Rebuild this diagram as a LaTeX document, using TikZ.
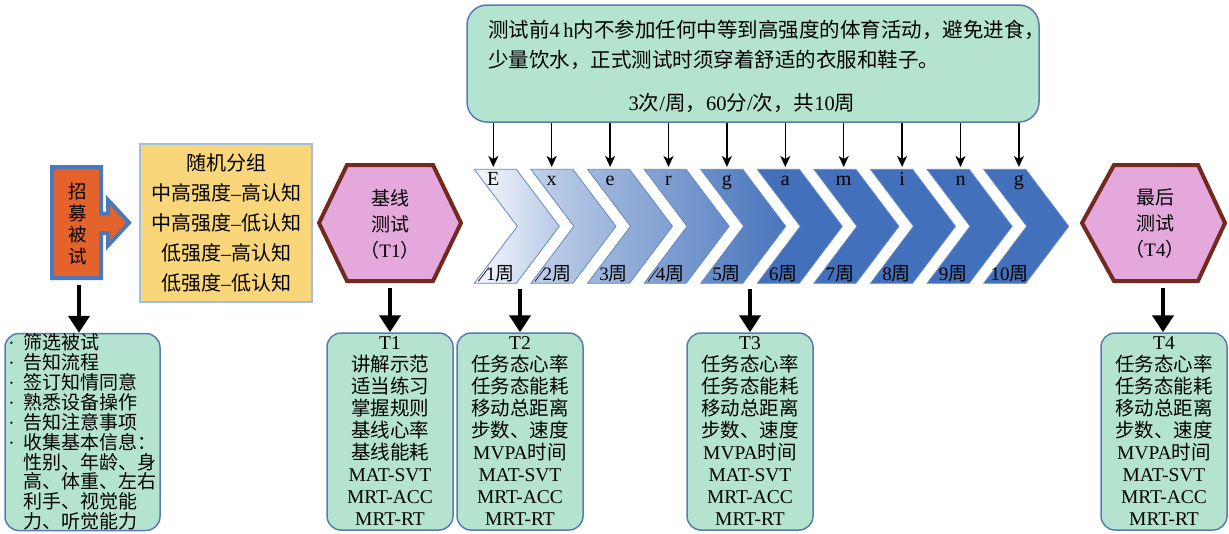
\documentclass[tikz,border=0pt]{standalone}
\usepackage{fontspec}
\setmainfont{Noto Sans CJK SC}
\newfontfamily\lat{Liberation Serif}
\usetikzlibrary{arrows.meta}
\definecolor{boxgreen}{RGB}{180,228,207}
\definecolor{boxblue}{RGB}{88,124,178}
\definecolor{hexpink}{RGB}{228,168,220}
\definecolor{hexbrown}{RGB}{114,41,31}
\definecolor{yel}{RGB}{250,214,122}
\definecolor{yelborder}{RGB}{160,190,228}
\definecolor{orng}{RGB}{228,98,44}
\definecolor{orngborder}{RGB}{74,120,184}
\definecolor{chevdark}{RGB}{66,112,186}
\definecolor{chevlight}{RGB}{246,249,253}
\definecolor{chevline}{RGB}{100,136,196}
\newcommand\itemdot{\makebox[15pt][l]{\lat ·}}
\begin{document}
\begin{tikzpicture}[x=1pt,y=-1pt,
  greenbox/.style={draw=boxblue,line width=1.5pt,fill=boxgreen,rounded corners=14pt},
  tbox/.style={greenbox,minimum width=126pt,minimum height=197pt,inner sep=0pt,align=center,font=\fontsize{19.5}{22}\selectfont},
  hexline/.style={draw=hexbrown,line width=4pt,fill=hexpink,line join=miter},
  hextext/.style={align=center,inner sep=0pt,font=\fontsize{19}{26}\selectfont},
  thinarrow/.style={line width=1.5pt,-{Stealth[length=11pt,width=10pt,inset=3pt]}},
  thickarrow/.style={line width=4.5pt,-{Triangle[length=17pt,width=21pt]}},
  chevlab/.style={font=\lat\fontsize{20}{20}\selectfont,inner sep=0pt,anchor=base},
  wklab/.style={font=\fontsize{19}{19}\selectfont,inner sep=0pt},
]
\fill[white] (0,0) rectangle (1229,533);
\useasboundingbox (0,0) rectangle (1229,533);

% top note box
\node[greenbox,rounded corners=20pt,minimum width=572pt,minimum height=117pt] (topbox) at (753,63.5) {};
\node[anchor=west,align=left,inner sep=0pt,font=\fontsize{20.5}{30}\selectfont] (topnote) at (488,45)
  {测试前{\lat 4\,h}内不参加任何中等到高强度的体育活动，避免进食，\\少量饮水，正式测试时须穿着舒适的衣服和鞋子。};
\node[inner sep=0pt,font=\fontsize{20.5}{20}\selectfont] (freq) at (742,103)
  {{\lat 3}次{\lat /}周，{\lat 60}分{\lat /}次，共{\lat 10}周};

% chevrons
\foreach \i/\l/\r/\tl/\wk in {0/0/35/E/1,1/30/50/x/2,2/48/65/e/3,3/62/80/r/4,4/78/95/g/5,5/100/100/a/6,6/100/100/m/7,7/100/100/i/8,8/100/100/n/9,9/100/100/g/10}{
  \pgfmathsetmacro{\xo}{474.3+56.6*\i}
  \pgfmathsetmacro{\xa}{493.3+58.4*\i}
  \path[draw=chevline,line width=0.8pt,left color=chevdark!\l!chevlight,right color=chevdark!\r!chevlight]
    (\xo,169.3) -- ++(42,0) -- ++(43,57) -- ++(-43,57) -- ++(-42,0) -- ++(43,-57) -- cycle;
  \node[chevlab] (lab\i) at (\xa,185) {\tl};
  \node[wklab] (wk\i) at (\xo+26,274) {{\lat\wk}周};
  \coordinate (in\i) at (\xa,167);
  \draw[thinarrow] (in\i |- topbox.south) -- (in\i);
}
\foreach \i in {0,1,3}{
  \pgfmathsetmacro{\xo}{474.3+56.6*\i}
  \draw[line width=0.9pt,black!80] (\xo+4,281.5) -- (\xo+14.5,267.5);
}

% recruit shape
\path[draw=orngborder,line width=4pt,fill=orng,line join=miter]
  (52,167) -- (101,167) -- (101,213.5) -- (108,213.5) -- (108,200) -- (129,222.7)
  -- (108,245.5) -- (108,233) -- (101,233) -- (101,278) -- (52,278) -- cycle;
\node[align=center,inner sep=0pt,font=\fontsize{18.5}{21.4}\selectfont] (rec) at (78,224) {招\\募\\被\\试};

% grouping box
\node[draw=yelborder,line width=1.5pt,fill=yel,minimum width=172pt,minimum height=158pt,align=center,inner sep=0pt,
  font=\fontsize{20}{30}\selectfont] (grp) at (226,223)
  {随机分组\\中高强度{\lat –}高认知\\中高强度{\lat –}低认知\\低强度{\lat –}高认知\\低强度{\lat –}低认知};

% hexagons
\draw[hexline] (319,223) -- (347,165) -- (433,165) -- (461,223) -- (433,281) -- (347,281) -- cycle;
\node[hextext] (h1) at (390,224) {基线\\测试\\（{\lat T1}）};
\draw[hexline] (1082,223) -- (1114,165) -- (1198,165) -- (1225,223) -- (1198,281) -- (1114,281) -- cycle;
\node[hextext] (h4) at (1155,224) {最后\\测试\\（{\lat T4}）};

% bottom boxes
\node[greenbox,minimum width=155pt,minimum height=197pt,align=left,inner xsep=2pt,inner ysep=0pt,
  font=\fontsize{19}{19.9}\selectfont] (prep) at (82.5,432)
  {\itemdot 筛选被试\\\itemdot 告知流程\\\itemdot 签订知情同意\\\itemdot 熟悉设备操作\\\itemdot 告知注意事项\\
   \itemdot 收集基本信息：\\\hspace*{15pt}性别、年龄、身\\\hspace*{15pt}高、体重、左右\\\hspace*{15pt}利手、视觉能\\\hspace*{15pt}力、听觉能力};
\node[tbox] (t1) at (390,431.5) {{\lat T1}\\讲解示范\\适当练习\\掌握规则\\基线心率\\基线能耗\\{\lat MAT-SVT}\\{\lat MRT-ACC}\\{\lat MRT-RT}};
\node[tbox] (t2) at (520,431.5) {{\lat T2}\\任务态心率\\任务态能耗\\移动总距离\\步数、速度\\{\lat MVPA}时间\\{\lat MAT-SVT}\\{\lat MRT-ACC}\\{\lat MRT-RT}};
\node[tbox] (t3) at (750,431.5) {{\lat T3}\\任务态心率\\任务态能耗\\移动总距离\\步数、速度\\{\lat MVPA}时间\\{\lat MAT-SVT}\\{\lat MRT-ACC}\\{\lat MRT-RT}};
\node[tbox] (t4) at (1164,431.5) {{\lat T4}\\任务态心率\\任务态能耗\\移动总距离\\步数、速度\\{\lat MVPA}时间\\{\lat MAT-SVT}\\{\lat MRT-ACC}\\{\lat MRT-RT}};

% thick arrows
\coordinate (recb) at (79,285);
\coordinate (h1b) at (390,288);
\coordinate (c1b) at (520,289);
\coordinate (c5b) at (750,289);
\coordinate (h4b) at (1163,288);
\draw[thickarrow] (recb) -- (recb |- prep.north);
\draw[thickarrow] (h1b) -- (h1b |- t1.north);
\draw[thickarrow] (c1b) -- (c1b |- t2.north);
\draw[thickarrow] (c5b) -- (c5b |- t3.north);
\draw[thickarrow] (h4b) -- (h4b |- t4.north);
\end{tikzpicture}
\end{document}
